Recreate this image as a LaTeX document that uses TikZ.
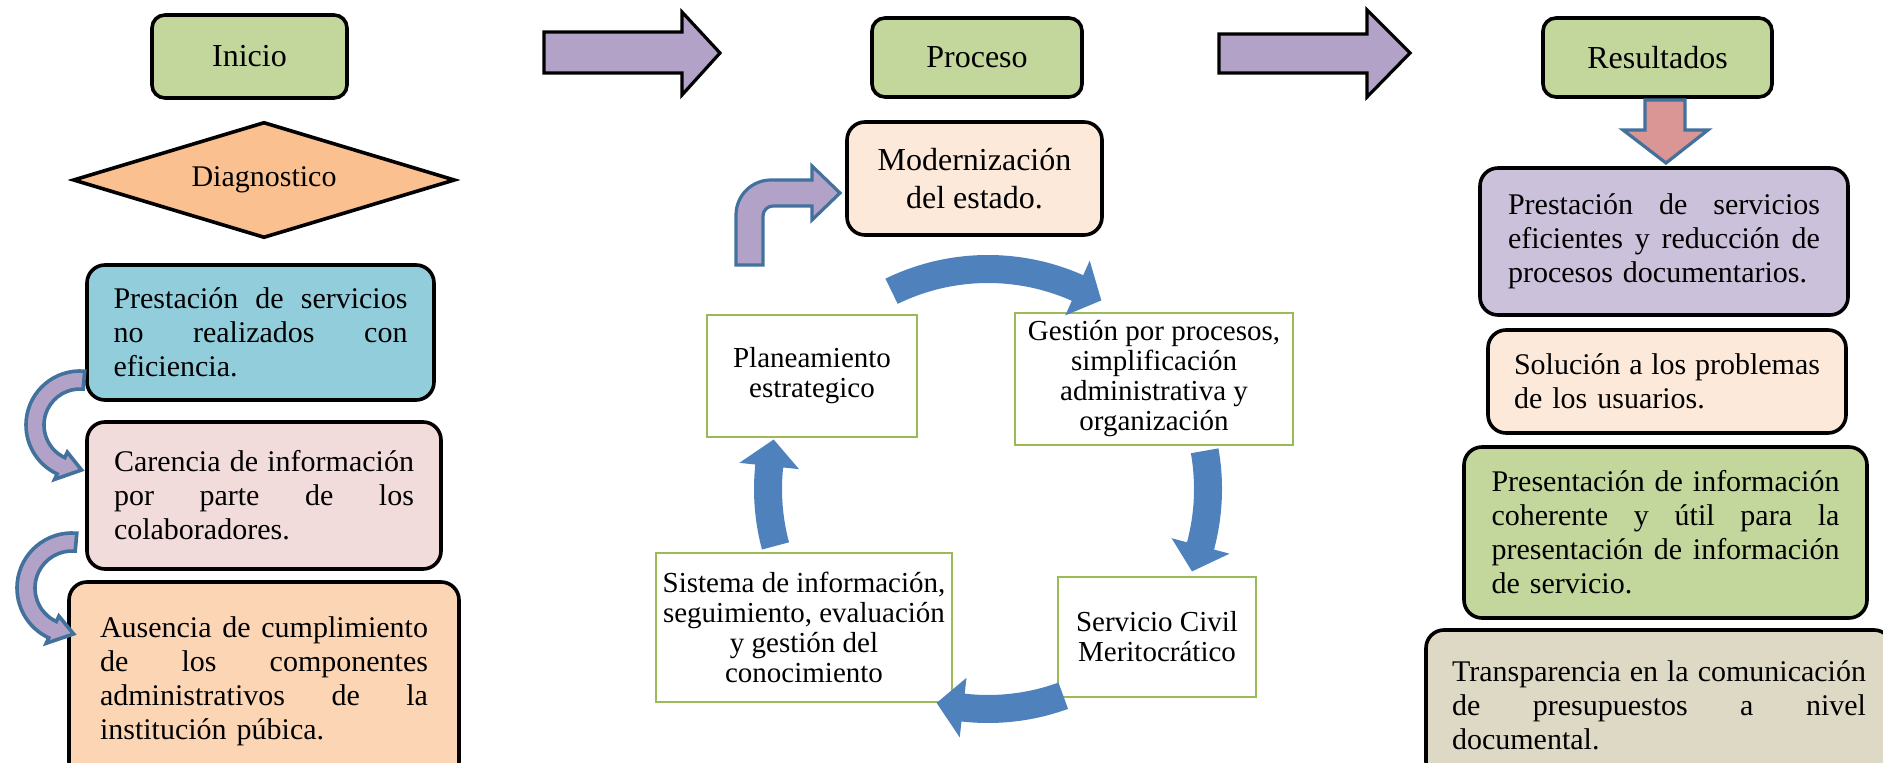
\documentclass[tikz,border=0pt]{standalone}
\usepackage{fontspec}
\setmainfont{Liberation Serif}
\usetikzlibrary{calc,shapes.geometric,positioning}
\setlength{\parindent}{0pt}

\definecolor{hdrgreen}{HTML}{C3D69B}
\definecolor{diamorange}{HTML}{FAC090}
\definecolor{boxblue}{HTML}{92CDDC}
\definecolor{boxpink}{HTML}{F2DCDB}
\definecolor{boxorange}{HTML}{FCD5B5}
\definecolor{boxpeach}{HTML}{FDE9D9}
\definecolor{boxpurple}{HTML}{CCC1DA}
\definecolor{boxtan}{HTML}{DDD9C4}
\definecolor{arrpurple}{HTML}{B2A2C7}
\definecolor{arrpink}{HTML}{D99694}
\definecolor{arrborder}{HTML}{41719C}
\definecolor{cycblue}{HTML}{4F81BD}
\definecolor{cycgreen}{HTML}{9BBB59}

\newcommand{\bodyfont}{\fontsize{15}{17}\selectfont}
\newcommand{\hdrfont}{\fontsize{16}{19}\selectfont}
\newcommand{\cycfont}{\fontsize{14.5}{15}\selectfont}

% curved block arrow: style, centre, radius, half band, half head, tail, head base, tip
\newcommand{\blockarc}[8]{%
  \filldraw[#1] ($(#2)+(#6:#3+#4)$) arc[start angle=#6, end angle=#7, radius=#3+#4]
    -- ($(#2)+(#7:#3+#5)$) -- ($(#2)+(#8:#3)$) -- ($(#2)+(#7:#3-#5)$)
    -- ($(#2)+(#7:#3-#4)$) arc[start angle=#7, end angle=#6, radius=#3-#4] -- cycle;}

\begin{document}
\begin{tikzpicture}[x=0.5pt, y=-0.5pt]

\tikzset{
hdr/.style={draw, line width=1.8pt, rounded corners=6.5pt, fill=hdrgreen, font=\hdrfont, inner sep=0pt},
txtbox/.style={draw, line width=1.8pt, rounded corners=9pt, align=left, font=\bodyfont, inner sep=0pt},
cycbox/.style={draw=cycgreen, line width=1pt, fill=white, align=center, font=\cycfont, inner sep=0pt},
bigarrow/.style={fill=arrpurple, draw=black, line width=1.6pt, line join=miter},
downarrow/.style={fill=arrpink, draw=arrborder, line width=1.6pt},
bentarrow/.style={fill=arrpurple, draw=arrborder, line width=1.6pt},
sidearrow/.style={fill=arrpurple, draw=arrborder, line width=1.8pt},
cycarrow/.style={fill=cycblue, draw=none}
}

\useasboundingbox (0,0) rectangle (1883,763);

% Inicio
\node[hdr, minimum width=97.5pt, minimum height=41.5pt] (inicio) at (249.5,56.5) {Inicio};
\node[diamond, aspect=3.3, draw, line width=1.8pt, fill=diamorange, inner sep=0pt,
  minimum width=191pt, minimum height=58pt, font=\bodyfont] (diag) at (264,180) {Diagnostico};

\node[txtbox, fill=boxblue, text width=147pt, minimum width=173.5pt, minimum height=67.5pt] (prob1) at (260.5,332.5)
  {Prestación\hfill de\hfill servicios\\ no\hfill realizados\hfill con\\ eficiencia.};
\node[txtbox, fill=boxpink, text width=150pt, minimum width=177pt, minimum height=73.5pt] (prob2) at (264,495.5)
  {Carencia\hfill de\hfill información\\ por\hfill parte\hfill de\hfill los\\ colaboradores.};
\node[txtbox, fill=boxorange, text width=164pt, minimum width=195pt, minimum height=99pt] (prob3) at (264,681)
  {Ausencia\hfill de\hfill cumplimiento\\ de\hfill los\hfill componentes\\ administrativos\hfill de\hfill la\\ institución púbica.};

% Proceso
\node[hdr, minimum width=105pt, minimum height=39.5pt] (proceso) at (977,57.5) {Proceso};
\node[txtbox, fill=boxpeach, align=center, font=\hdrfont, minimum width=127.5pt, minimum height=56.5pt] (modern) at (974.5,178.5)
  {Modernización\\ del estado.};

\node[cycbox, minimum width=105pt, minimum height=61pt] (plan) at (812,376) {Planeamiento\\ estrategico};
\node[cycbox, minimum width=139pt, minimum height=66pt] (gest) at (1154,379)
  {Gestión por procesos,\\ simplificación\\ administrativa y\\ organización};
\node[cycbox, minimum width=99pt, minimum height=60pt] (serv) at (1157,637) {Servicio Civil\\ Meritocrático};
\node[cycbox, minimum width=148pt, minimum height=74.5pt] (sist) at (804,627.5)
  {Sistema de información,\\ seguimiento, evaluación\\ y gestión del\\ conocimiento};

% Resultados
\node[hdr, minimum width=114.5pt, minimum height=39.5pt] (result) at (1657.5,57.5) {Resultados};

\node[txtbox, fill=boxpurple, text width=156pt, minimum width=184pt, minimum height=73.5pt] (res1) at (1664,241.5)
  {Prestación\hfill de\hfill servicios\\ eficientes\hfill y\hfill reducción\hfill de\\ procesos documentarios.};
\node[txtbox, fill=boxpeach, text width=153pt, minimum width=179pt, minimum height=51.5pt] (res2) at (1667,381.5)
  {Solución\hfill a\hfill los\hfill problemas\\ de los usuarios.};
\node[txtbox, fill=hdrgreen, text width=174pt, minimum width=201.5pt, minimum height=85.5pt] (res3) at (1665.5,532.5)
  {Presentación\hfill de\hfill información\\ coherente\hfill y\hfill útil\hfill para\hfill la\\ presentación\hfill de\hfill información\\ de servicio.};
\node[txtbox, fill=boxtan, text width=207pt, minimum width=233pt, minimum height=75pt] (res4) at (1659,705)
  {Transparencia\hfill en\hfill la\hfill comunicación\\ de\hfill presupuestos\hfill a\hfill nivel\\ documental.};

% Arrows
\filldraw[bigarrow] (544,32) -- (682,32) -- (682,12) -- (720,53) -- (682,95) -- (682,73) -- (544,73) -- cycle;
\filldraw[bigarrow] (1219,34) -- (1367,34) -- (1367,10) -- (1410,53) -- (1367,97) -- (1367,73) -- (1219,73) -- cycle;

\filldraw[downarrow] (1645,100) -- (1685,100) -- (1685,130) -- (1708,130) -- (1666,163) -- (1623,130) -- (1645,130) -- cycle;

\filldraw[bentarrow] (736,265) -- (736,215) arc[start angle=180, end angle=90, radius=17.5pt]
  -- (812,180) -- (812,166) -- (840,193) -- (812,220) -- (812,206)
  -- (773,206) arc[start angle=90, end angle=180, radius=5pt] -- (763,265) -- cycle;

\coordinate (side1) at (80,425);
\coordinate (side2) at (72,588);
\blockarc{sidearrow}{side1}{22.5pt}{4.5pt}{7.5pt}{85}{245}{272}
\blockarc{sidearrow}{side2}{23pt}{4.5pt}{7.5pt}{85}{245}{272}

\coordinate (cyc) at (988,489);
\blockarc{cycarrow}{cyc}{110pt}{7pt}{15pt}{116}{66}{59}
\blockarc{cycarrow}{cyc}{110pt}{7pt}{15pt}{10}{-15}{-22}
\blockarc{cycarrow}{cyc}{110pt}{7pt}{15pt}{-70}{-96.5}{-103.5}
\blockarc{cycarrow}{cyc}{110pt}{7pt}{15pt}{195}{174}{167}

\end{tikzpicture}
\end{document}
